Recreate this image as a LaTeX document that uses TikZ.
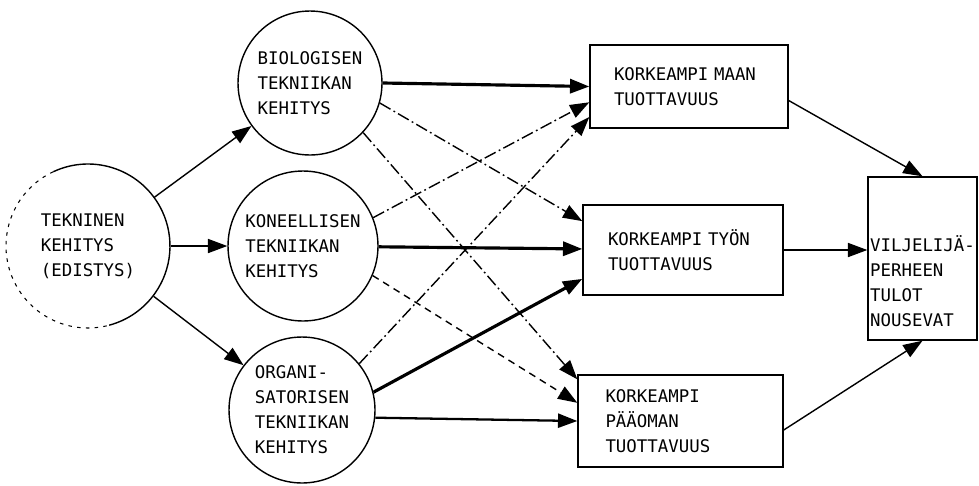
\documentclass[tikz,border=0pt]{standalone}
\usepackage{fontspec}
\setmonofont{DejaVu Sans Mono}
\usetikzlibrary{arrows.meta,shapes}
\tikzstyle{vertex}=[circle,draw,line width=0.8pt,inner sep=0pt,align=left]
\tikzstyle{box}=[rectangle,draw,line width=0.8pt,inner sep=0pt,align=left,text width=3cm]
\tikzstyle{edge}=[draw,line width=0.8pt,-{Triangle[length=11pt,width=8pt]}]
\tikzstyle{heavyedge}=[edge,line width=1.8pt]
\tikzstyle{dashdotedge}=[edge,dash pattern=on 7pt off 2pt on 1pt off 2pt]
\tikzstyle{dashededge}=[edge,dash pattern=on 4pt off 3pt]
\begin{document}
\begin{tikzpicture}[x=0.02cm,y=0.02cm,font=\ttfamily\fontsize{9.9pt}{14.2pt}\selectfont]
    \useasboundingbox (0,0) rectangle (979,485);

    % the source circle, left half only faintly drawn
    \node[vertex,draw=none,minimum size=3.28cm] (tek) at (88,239) {TEKNINEN\\KEHITYS\\(EDISTYS)};
    \draw[line width=0.8pt] (tek.center) ++(115:1.64cm) arc[start angle=115,end angle=-75,radius=1.64cm];
    \draw[line width=0.6pt,dash pattern=on 2pt off 3pt] (tek.center) ++(115:1.64cm) arc[start angle=115,end angle=285,radius=1.64cm];

    \foreach \pos/\name/\size/\txt in {{(310,402)/bio/2.88cm/{BIOLOGISEN\\TEKNIIKAN\\KEHITYS}},
        {(303,239)/kon/3cm/{KONEELLISEN\\TEKNIIKAN\\KEHITYS}},
        {(302,75)/org/2.92cm/{ORGANI-\\SATORISEN\\TEKNIIKAN\\KEHITYS}}}
        \node[vertex,minimum size=\size] (\name) at \pos {\txt};

    \node[box,minimum width=3.96cm,minimum height=1.66cm] (maan) at (689,398.5) {KORKEAMPI MAAN\\TUOTTAVUUS};
    \node[box,minimum width=4cm,minimum height=1.8cm] (tyon) at (683,235) {KORKEAMPI TYÖN\\TUOTTAVUUS};
    \node[box,minimum width=4.1cm,minimum height=1.84cm] (paa) at (680.5,64) {KORKEAMPI\\PÄÄOMAN\\TUOTTAVUUS};
    \node[rectangle,draw,line width=0.8pt,minimum width=2.18cm,minimum height=3.26cm] (vilj) at (922.5,226.5) {};
    \node[align=left,yshift=-0.46cm] (viljtext) at (vilj) {VILJELIJÄ-\\PERHEEN\\TULOT\\NOUSEVAT};

    % plain arrows
    \foreach \source/\dest in {tek/bio, tek/kon, tek/org, maan.-8/vilj.north, paa.-5/vilj.south}
        \path[edge] (\source) -- (\dest);
    \path[edge] (tyon.east) -- (tyon.east -| vilj.west);
    \path[edge,line width=1.3pt] (org.-6) -- (paa.west);

    % main effects
    \foreach \source/\dest in {bio.east/maan.west, kon/tyon, org.14/tyon.196}
        \path[heavyedge] (\source) -- (\dest);

    % side effects
    \foreach \source/\dest in {bio.-16/tyon.164, bio.-43/paa.158, kon.22/maan.189, org.39/maan.197}
        \path[dashdotedge] (\source) -- (\dest);
    \path[dashededge] (kon.-23) -- (paa.170);
\end{tikzpicture}
\end{document}
